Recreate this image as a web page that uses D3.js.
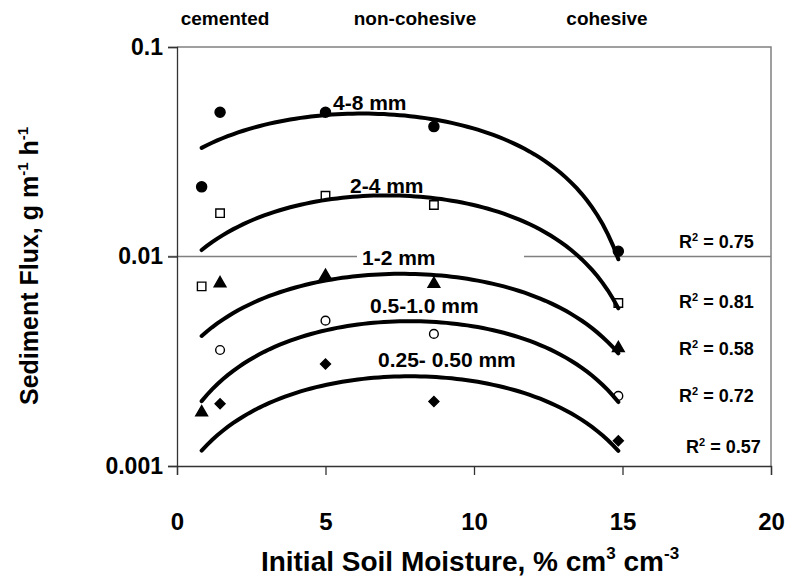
<!DOCTYPE html>
<html>
<head>
<meta charset="utf-8">
<script src="https://cdn.jsdelivr.net/npm/d3@7"></script>
<style>
  body { margin: 0; background: #fff; }
  svg text { font-family: "Liberation Sans", Arial, sans-serif; font-weight: bold; fill: #000; }
</style>
</head>
<body>
<div id="chart"></div>
<script>
// soil moisture of each sample (x), % cm3 cm-3
const moisture = [0.83, 1.45, 5.0, 8.65, 14.86];

// measured sediment flux per size class
// (values under 0.001 fall below the axis and are not shown, but still count for the trend)
const flux_4_8 = [0.0215, 0.0488, 0.0488, 0.0417, 0.0106];
const flux_2_4 = [0.0072, 0.0161, 0.0195, 0.0176, 0.006];
const flux_1_2 = [0.0018, 0.00745, 0.00807, 0.00739, 0.00365];
const flux_05_1 = [0.00095, 0.00358, 0.00494, 0.00427, 0.00216];
const flux_025_05 = [0.0005, 0.00198, 0.00307, 0.00203, 0.00132];

const sizeClasses = ["4-8 mm", "2-4 mm", "1-2 mm", "0.5-1.0 mm", "0.25- 0.50 mm"];
const r2Values = ["0.75", "0.81", "0.58", "0.72", "0.57"];
const cohesionLabels = ["cemented", "non-cohesive", "cohesive"];

const xTicks = [0, 5, 10, 15, 20];
const yTicks = [0.1, 0.01, 0.001];

const width = 788;
const height = 578;
const margin = { top: 47, right: 17, bottom: 112, left: 177 };

const x = d3.scaleLinear().domain([0, 20]).range([margin.left, width - margin.right]);
const y = d3.scaleLog().domain([0.001, 0.1]).range([height - margin.bottom, margin.top]);

const svg = d3.select("#chart").append("svg")
  .attr("width", width)
  .attr("height", height);

// gray frame on top and right
svg.append("path")
  .attr("d", `M${x(0)},${y(0.1)}H${x(20)}V${y(0.001)}`)
  .attr("fill", "none")
  .attr("stroke", "#808080")
  .attr("stroke-width", 1.5);

// 0.01 grid line
svg.append("line")
  .attr("x1", x(0) - 9).attr("x2", x(20))
  .attr("y1", y(0.01)).attr("y2", y(0.01))
  .attr("stroke", "#808080")
  .attr("stroke-width", 1.5);

function xAxis(g) {
  g.attr("transform", `translate(0, ${y(0.001)})`)
    .call(d3.axisBottom(x).tickValues(xTicks).tickSize(9).tickPadding(38).tickFormat(d3.format("d")));
  g.selectAll("path, line").attr("stroke", "#333").attr("stroke-width", 1.3);
  g.selectAll("text").style("font-size", "24px").attr("font-family", null);
}

function yAxis(g) {
  g.attr("transform", `translate(${x(0)}, 0)`)
    .call(d3.axisLeft(y).tickValues(yTicks).tickSize(9).tickPadding(5).tickFormat((d) => String(d)));
  g.selectAll("path, line").attr("stroke", "#333").attr("stroke-width", 1.3);
  g.selectAll("text").style("font-size", "23px").attr("font-family", null);
}

svg.append("g").attr("class", "xAxis").call(xAxis);
svg.append("g").attr("class", "yAxis").call(yAxis);

// white box of the "1-2 mm" label hides the grid line
svg.append("rect")
  .attr("x", 357).attr("y", 247)
  .attr("width", 167).attr("height", 20)
  .attr("fill", "#fff");

const series = [
  { values: flux_4_8, symbol: d3.symbolCircle, size: 80, fill: "#000", rot: 0 },
  { values: flux_2_4, symbol: d3.symbolSquare, size: 72, fill: "#fff", rot: 0 },
  { values: flux_1_2, symbol: d3.symbolTriangle, size: 60, fill: "#000", rot: 0 },
  { values: flux_05_1, symbol: d3.symbolCircle, size: 60, fill: "#fff", rot: 0 },
  { values: flux_025_05, symbol: d3.symbolSquare, size: 50, fill: "#000", rot: 45 },
];

// markers (points under the axis minimum are clipped)
series.forEach(function (s) {
  const pts = moisture.map((m, i) => ({ m: m, v: s.values[i] })).filter((d) => d.v >= 0.001);
  svg.append("g")
    .selectAll("path")
    .data(pts)
    .join("path")
    .attr("d", d3.symbol().type(s.symbol).size(s.size))
    .attr("transform", (d) => `translate(${x(d.m)},${y(d.v)}) rotate(${s.rot})`)
    .attr("fill", s.fill)
    .attr("stroke", "#000")
    .attr("stroke-width", 1.4);
});

// 2nd order polynomial least squares (the spreadsheet trend line)
function polyFit2(xs, ys) {
  var S = [0, 0, 0, 0, 0], T = [0, 0, 0];
  xs.forEach(function (xv, i) {
    for (var k = 0; k < 5; k++) S[k] += Math.pow(xv, k);
    for (var k = 0; k < 3; k++) T[k] += ys[i] * Math.pow(xv, k);
  });
  var A = [
    [S[0], S[1], S[2], T[0]],
    [S[1], S[2], S[3], T[1]],
    [S[2], S[3], S[4], T[2]],
  ];
  for (var c = 0; c < 3; c++) {
    for (var r = c + 1; r < 3; r++) {
      var f = A[r][c] / A[c][c];
      for (var k = c; k < 4; k++) A[r][k] -= f * A[c][k];
    }
  }
  var coef = [0, 0, 0];
  for (var r = 2; r >= 0; r--) {
    var s = A[r][3];
    for (var k = r + 1; k < 3; k++) s -= A[r][k] * coef[k];
    coef[r] = s / A[r][r];
  }
  return coef;
}

const line = d3.line()
  .x((d) => x(d[0]))
  .y((d) => y(d[1]));

const xFrom = d3.min(moisture);
const xTo = d3.max(moisture);
series.forEach(function (s) {
  const c = polyFit2(moisture, s.values);
  const curve = d3.range(0, 81).map(function (i) {
    const xv = xFrom + (xTo - xFrom) * i / 80;
    return [xv, c[0] + c[1] * xv + c[2] * xv * xv];
  });
  svg.append("path")
    .datum(curve)
    .attr("fill", "none")
    .attr("stroke", "#000")
    .attr("stroke-width", 4)
    .attr("stroke-linecap", "round")
    .attr("d", line);
});

// size class labels on the curves
const classPos = [[333, 110], [350, 193], [362, 265], [370, 313], [378, 367]];
svg.append("g")
  .selectAll("text")
  .data(sizeClasses)
  .join("text")
  .attr("x", (d, i) => classPos[i][0])
  .attr("y", (d, i) => classPos[i][1])
  .style("font-size", "21px")
  .text((d) => d);

// R2 labels
const r2Pos = [[679, 248], [679, 308], [679, 355], [679, 402], [686, 453]];
const r2 = svg.append("g")
  .selectAll("text")
  .data(r2Values)
  .join("text")
  .attr("x", (d, i) => r2Pos[i][0])
  .attr("y", (d, i) => r2Pos[i][1])
  .style("font-size", "18px");
r2.append("tspan").text("R");
r2.append("tspan").attr("dy", -7).style("font-size", "11px").text("2");
r2.append("tspan").attr("dy", 7).text((d) => " = " + d);

// cohesion classes on top
const topX = [225, 415, 607];
svg.append("g")
  .selectAll("text")
  .data(cohesionLabels)
  .join("text")
  .attr("x", (d, i) => topX[i])
  .attr("y", 25)
  .attr("text-anchor", "middle")
  .style("font-size", "19px")
  .text((d) => d);

// axis titles
const xTitle = svg.append("text")
  .attr("x", 470)
  .attr("y", 571)
  .attr("text-anchor", "middle")
  .style("font-size", "28px");
xTitle.append("tspan").text("Initial Soil Moisture, % cm");
xTitle.append("tspan").attr("dy", -12).style("font-size", "17px").text("3");
xTitle.append("tspan").attr("dy", 12).text(" cm");
xTitle.append("tspan").attr("dy", -12).style("font-size", "17px").text("-3");

const yTitle = svg.append("text")
  .attr("transform", "translate(38, 266) rotate(-90)")
  .attr("text-anchor", "middle")
  .style("font-size", "25px");
yTitle.append("tspan").text("Sediment Flux, g m");
yTitle.append("tspan").attr("dy", -10).style("font-size", "15px").text("-1");
yTitle.append("tspan").attr("dy", 10).text(" h");
yTitle.append("tspan").attr("dy", -10).style("font-size", "15px").text("-1");
</script>
</body>
</html>
